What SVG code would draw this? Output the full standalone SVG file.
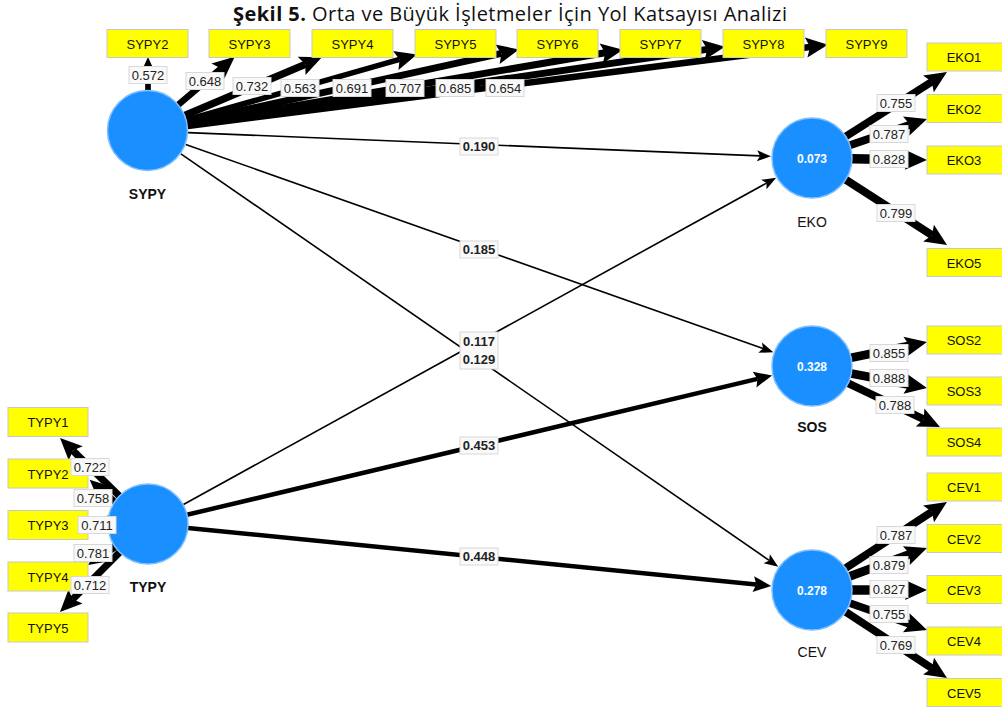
<svg xmlns="http://www.w3.org/2000/svg" width="1002" height="708" viewBox="0 0 1002 708">
<style>
.ind rect{fill:#ffff00;stroke:#c8c8c8;stroke-width:1}
.ind text{font-family:"Liberation Sans",Arial,sans-serif;font-size:13px;fill:#111;text-anchor:middle}
.lv circle{fill:#1a8fff;stroke:#7fbfff;stroke-width:1.5}
.lv text.v{font-family:"Liberation Sans",Arial,sans-serif;font-size:12px;font-weight:bold;fill:#fff;text-anchor:middle}
.lv text.n{font-family:"Liberation Sans",Arial,sans-serif;font-size:14px;fill:#111;text-anchor:middle}
.lv text.b{font-weight:bold}
.ld line{stroke:#000;marker-end:url(#mb)}
.pth line.thin{stroke:#000;stroke-width:1.6;marker-end:url(#ms)}
.pth line.thick{stroke:#000;stroke-width:4.5;marker-end:url(#mm)}
.lbl rect{fill:#f9f9f9;stroke:#d8d8d8;stroke-width:1}
.lbl text{font-family:"Liberation Sans",Arial,sans-serif;font-size:13px;fill:#222;text-anchor:middle}
.lbl text.p{font-weight:bold}
.title{font-family:"Open Sans",sans-serif;font-size:20px;fill:#111}
</style>
<defs>
<marker id="mb" markerUnits="userSpaceOnUse" markerWidth="24" markerHeight="24" refX="4" refY="0" orient="auto" overflow="visible"><path d="M0,-10 L22,0 L0,10 L4,0 z" fill="#000"/></marker>
<marker id="mm" markerUnits="userSpaceOnUse" markerWidth="20" markerHeight="20" refX="3" refY="0" orient="auto" overflow="visible"><path d="M0,-8 L18,0 L0,8 L3,0 z" fill="#000"/></marker>
<marker id="ms" markerUnits="userSpaceOnUse" markerWidth="16" markerHeight="16" refX="3" refY="0" orient="auto" overflow="visible"><path d="M0,-5.5 L14,0 L0,5.5 L3,0 z" fill="#000"/></marker>
</defs>
<rect width="1002" height="708" fill="#fff"/>
<text class="title" x="233" y="21" textLength="554" lengthAdjust="spacing"><tspan font-weight="bold">Şekil 5.</tspan> Orta ve Büyük İşletmeler İçin Yol Katsayısı Analizi</text>

<g id="connectors">
<g class="ld">
<line x1="148" y1="91" x2="148" y2="75" stroke-width="5.7"/>
<line x1="178" y1="105" x2="221" y2="68.4" stroke-width="6.5"/>
<line x1="184.8" y1="115.4" x2="305.3" y2="64.3" stroke-width="7.3"/>
<line x1="186.5" y1="120" x2="399.6" y2="59.4" stroke-width="5.6"/>
<line x1="187" y1="122.4" x2="501.4" y2="53.4" stroke-width="6.9"/>
<line x1="187.4" y1="124.2" x2="605.2" y2="52.7" stroke-width="7.1"/>
<line x1="187.6" y1="125.2" x2="707.2" y2="49.3" stroke-width="6.9"/>
<line x1="187.7" y1="126" x2="810.1" y2="47" stroke-width="6.5"/>
<line x1="845.7" y1="136.5" x2="931.8" y2="81.7" stroke-width="7.6"/>
<line x1="849.9" y1="145.2" x2="910" y2="124.8" stroke-width="7.9"/>
<line x1="852" y1="158.7" x2="909" y2="159.7" stroke-width="9.5"/>
<line x1="845.6" y1="179.7" x2="931.9" y2="235.2" stroke-width="8"/>
<line x1="851.2" y1="357.8" x2="909.4" y2="345.7" stroke-width="8.6"/>
<line x1="851.3" y1="373.5" x2="909.3" y2="384.6" stroke-width="8.9"/>
<line x1="848.1" y1="383.2" x2="923.7" y2="419.3" stroke-width="7.9"/>
<line x1="845.5" y1="568.2" x2="931.9" y2="511.8" stroke-width="7.9"/>
<line x1="849.6" y1="576.3" x2="910.1" y2="554.2" stroke-width="8.8"/>
<line x1="852" y1="590" x2="909" y2="590" stroke-width="9.5"/>
<line x1="849.8" y1="603.1" x2="910" y2="624.1" stroke-width="7.6"/>
<line x1="845.5" y1="611.8" x2="931.9" y2="668.2" stroke-width="7.7"/>
<line x1="119.4" y1="496" x2="72.9" y2="450.6" stroke-width="7.2"/>
<line x1="114.5" y1="502.2" x2="103" y2="491.8" stroke-width="7.6"/>
<line x1="108" y1="524.5" x2="106" y2="524.5" stroke-width="7.1"/>
<line x1="115" y1="546.6" x2="102.9" y2="554.8" stroke-width="7.8"/>
<line x1="119.7" y1="552.3" x2="72.7" y2="599.3" stroke-width="7.1"/>
</g>
<g class="pth">
<line class="thin" x1="188" y1="132.6" x2="760" y2="155.9"/>
<line class="thin" x1="185.7" y1="144.4" x2="763" y2="348.6"/>
<line class="thin" x1="180.9" y1="153.8" x2="769.2" y2="560.4"/>
<line class="thin" x1="183" y1="504.7" x2="766.5" y2="183.1"/>
<line class="thick" x1="186.9" y1="514.8" x2="757.5" y2="378.9"/>
<line class="thick" x1="187.8" y1="528" x2="756.3" y2="584.4"/>
</g>
</g>

<g id="SYPY" class="lv"><circle cx="147.5" cy="130.5" r="40"/><text class="n b" x="147.5" y="198.5">SYPY</text></g>
<g id="TYPY" class="lv"><circle cx="148" cy="524" r="40"/><text class="n b" x="148" y="592">TYPY</text></g>
<g id="EKO" class="lv"><circle cx="812" cy="158" r="40"/><text class="v" x="812" y="162.5">0.073</text><text class="n" x="812" y="227">EKO</text></g>
<g id="SOS" class="lv"><circle cx="812" cy="366" r="40"/><text class="v" x="812" y="370.5">0.328</text><text class="n b" x="812" y="432">SOS</text></g>
<g id="CEV" class="lv"><circle cx="812" cy="590" r="40"/><text class="v" x="812" y="594.5">0.278</text><text class="n" x="812" y="657">CEV</text></g>

<g id="SYPY2" class="ind"><rect x="107" y="29.5" width="81" height="28"/><text x="147.5" y="48.5">SYPY2</text></g>
<g id="SYPY3" class="ind"><rect x="209" y="29.5" width="81" height="28"/><text x="249.5" y="48.5">SYPY3</text></g>
<g id="SYPY4" class="ind"><rect x="312" y="29.5" width="81" height="28"/><text x="352.5" y="48.5">SYPY4</text></g>
<g id="SYPY5" class="ind"><rect x="415" y="29.5" width="81" height="28"/><text x="455.5" y="48.5">SYPY5</text></g>
<g id="SYPY6" class="ind"><rect x="517" y="29.5" width="81" height="28"/><text x="557.5" y="48.5">SYPY6</text></g>
<g id="SYPY7" class="ind"><rect x="620" y="29.5" width="81" height="28"/><text x="660.5" y="48.5">SYPY7</text></g>
<g id="SYPY8" class="ind"><rect x="723" y="29.5" width="81" height="28"/><text x="763.5" y="48.5">SYPY8</text></g>
<g id="SYPY9" class="ind"><rect x="826" y="29.5" width="81" height="28"/><text x="866.5" y="48.5">SYPY9</text></g>

<g id="EKO1" class="ind"><rect x="927" y="43" width="80" height="28"/><text x="964" y="62">EKO1</text></g>
<g id="EKO2" class="ind"><rect x="927" y="94.5" width="80" height="28"/><text x="964" y="113.5">EKO2</text></g>
<g id="EKO3" class="ind"><rect x="927" y="146" width="80" height="28"/><text x="964" y="165">EKO3</text></g>
<g id="EKO5" class="ind"><rect x="927" y="248.5" width="80" height="28"/><text x="964" y="267.5">EKO5</text></g>
<g id="SOS2" class="ind"><rect x="927" y="326" width="80" height="28"/><text x="964" y="345">SOS2</text></g>
<g id="SOS3" class="ind"><rect x="927" y="377" width="80" height="28"/><text x="964" y="396">SOS3</text></g>
<g id="SOS4" class="ind"><rect x="927" y="428" width="80" height="28"/><text x="964" y="447">SOS4</text></g>
<g id="CEV1" class="ind"><rect x="927" y="473" width="80" height="28"/><text x="964" y="492">CEV1</text></g>
<g id="CEV2" class="ind"><rect x="927" y="524.5" width="80" height="28"/><text x="964" y="543.5">CEV2</text></g>
<g id="CEV3" class="ind"><rect x="927" y="575.5" width="80" height="28"/><text x="964" y="594.5">CEV3</text></g>
<g id="CEV4" class="ind"><rect x="927" y="627" width="80" height="28"/><text x="964" y="646">CEV4</text></g>
<g id="CEV5" class="ind"><rect x="927" y="678.5" width="80" height="28"/><text x="964" y="697.5">CEV5</text></g>
<g id="TYPY1" class="ind"><rect x="8" y="407.5" width="80" height="29"/><text x="48" y="427">TYPY1</text></g>
<g id="TYPY2" class="ind"><rect x="8" y="459" width="80" height="29"/><text x="48" y="478.5">TYPY2</text></g>
<g id="TYPY3" class="ind"><rect x="8" y="510.5" width="80" height="29"/><text x="48" y="530">TYPY3</text></g>
<g id="TYPY4" class="ind"><rect x="8" y="562" width="80" height="29"/><text x="48" y="581.5">TYPY4</text></g>
<g id="TYPY5" class="ind"><rect x="8" y="613" width="80" height="29"/><text x="48" y="632.5">TYPY5</text></g>

<g id="labels" class="lbl">
<rect x="129" y="66.5" width="38" height="17"/><text x="148" y="79.5">0.572</text>
<rect x="186" y="72.5" width="38" height="17"/><text x="205" y="85.5">0.648</text>
<rect x="233" y="77.5" width="38" height="17"/><text x="252" y="90.5">0.732</text>
<rect x="281" y="79.5" width="38" height="17"/><text x="300" y="92.5">0.563</text>
<rect x="333" y="79.5" width="38" height="17"/><text x="352" y="92.5">0.691</text>
<rect x="386" y="79.5" width="38" height="17"/><text x="405" y="92.5">0.707</text>
<rect x="436" y="79.5" width="38" height="17"/><text x="455" y="92.5">0.685</text>
<rect x="486" y="79.5" width="38" height="17"/><text x="505" y="92.5">0.654</text>
<rect x="877" y="94.5" width="38" height="17"/><text x="896" y="107.5">0.755</text>
<rect x="870" y="125.5" width="38" height="17"/><text x="889" y="138.5">0.787</text>
<rect x="870" y="150.5" width="38" height="17"/><text x="889" y="163.5">0.828</text>
<rect x="877" y="204.5" width="38" height="17"/><text x="896" y="217.5">0.799</text>
<rect x="870" y="344.5" width="38" height="17"/><text x="889" y="357.5">0.855</text>
<rect x="870" y="369.5" width="38" height="17"/><text x="889" y="382.5">0.888</text>
<rect x="876" y="396.5" width="38" height="17"/><text x="895" y="409.5">0.788</text>
<rect x="877" y="526.5" width="38" height="17"/><text x="896" y="539.5">0.787</text>
<rect x="870" y="556.5" width="38" height="17"/><text x="889" y="569.5">0.879</text>
<rect x="870" y="580.5" width="38" height="17"/><text x="889" y="593.5">0.827</text>
<rect x="870" y="605.5" width="38" height="17"/><text x="889" y="618.5">0.755</text>
<rect x="877" y="636.5" width="38" height="17"/><text x="896" y="649.5">0.769</text>
<rect x="71" y="458.5" width="38" height="17"/><text x="90" y="471.5">0.722</text>
<rect x="74" y="489.5" width="38" height="17"/><text x="93" y="502.5">0.758</text>
<rect x="78" y="516.5" width="38" height="17"/><text x="97" y="529.5">0.711</text>
<rect x="74" y="544.5" width="38" height="17"/><text x="93" y="557.5">0.781</text>
<rect x="71" y="576.5" width="38" height="17"/><text x="90" y="589.5">0.712</text>
<rect x="460" y="138" width="38" height="17"/><text class="p" x="479" y="151">0.190</text>
<rect x="460" y="241" width="38" height="17"/><text class="p" x="479" y="254">0.185</text>
<rect x="460" y="332" width="38" height="37"/><text class="p" x="479" y="346">0.117</text><text class="p" x="479" y="364">0.129</text>
<rect x="460" y="437" width="38" height="17"/><text class="p" x="479" y="450">0.453</text>
<rect x="460" y="548" width="38" height="17"/><text class="p" x="479" y="561">0.448</text>
</g>
</svg>
